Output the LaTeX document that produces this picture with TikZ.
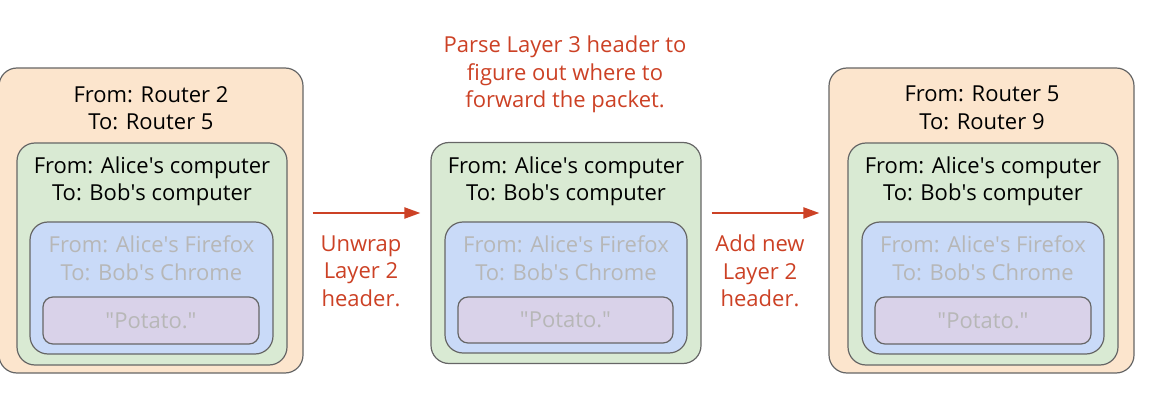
\documentclass[tikz,border=0pt]{standalone}
\usepackage{fontspec}
\setmainfont{Open Sans}
\usetikzlibrary{arrows.meta,positioning}
\definecolor{wrapfill}{HTML}{FCE5CD}
\definecolor{ipfill}{HTML}{D9EAD3}
\definecolor{tcpfill}{HTML}{C9DAF8}
\definecolor{datafill}{HTML}{D9D2E9}
\definecolor{edgegray}{HTML}{666666}
\definecolor{fadegray}{HTML}{B7B7B7}
\definecolor{notered}{HTML}{CC4125}

\tikzset{
  layer/.style={draw=edgegray, line width=1.2pt, rounded corners=18pt, inner sep=0pt},
  hdr/.style={align=center, inner sep=0pt, font=\fontsize{22}{27.5}\selectfont},
  faded/.style={hdr, text=fadegray},
  note/.style={hdr, text=notered},
  flow/.style={draw=notered, line width=2.2pt, -{Triangle[length=16pt,width=11pt]}}
}

\begin{document}
\begin{tikzpicture}[x=1pt,y=-1pt]
    % page
    \useasboundingbox (0,0) rectangle (1150,403);
    \coordinate (arrowrow) at (0,213);

    % left packet: layer 2 wrapper
    \node[layer, fill=wrapfill, minimum width=304pt, minimum height=305pt] (l2a) at (151,220.5) {};
    \node[hdr] (l2atxt) at (151,108) {From: Router 2\\To: Router 5};
    \node[layer, fill=ipfill, minimum width=270pt, minimum height=222pt] (ipa) at (152,254) {};
    \node[hdr] (ipatxt) at (152,181.5) {From: Alice\textquotesingle s computer\\To: Bob\textquotesingle s computer};
    \node[layer, fill=tcpfill, minimum width=243pt, minimum height=132pt] (tcpa) at (151.5,288) {};
    \node[faded] (tcpatxt) at (151.5,258) {From: Alice\textquotesingle s Firefox\\To: Bob\textquotesingle s Chrome};
    \node[layer, fill=datafill, minimum width=216pt, minimum height=47pt, rounded corners=10pt] (data) at (151,320.5) {};
    \node[faded] (datatxt) at (data) {\textquotedbl Potato.\textquotedbl};

    % middle packet: layer 3 only
    \node[layer, fill=ipfill, minimum width=270pt, minimum height=221pt] (ipm) at (566,253) {};
    \node[hdr] (ipmtxt) at (566,181.5) {From: Alice\textquotesingle s computer\\To: Bob\textquotesingle s computer};
    \node[layer, fill=tcpfill, minimum width=242pt, minimum height=131pt] (tcpm) at (566,287.5) {};
    \node[faded] (tcpmtxt) at (566,258) {From: Alice\textquotesingle s Firefox\\To: Bob\textquotesingle s Chrome};
    \node[layer, fill=datafill, minimum width=215pt, minimum height=46pt, rounded corners=10pt] (datam) at (565.5,320) {};
    \node[faded] (datamtxt) at (datam) {\textquotedbl Potato.\textquotedbl};
    \node[note] (parse) at (565,74.5) {Parse Layer 3 header to\\figure out where to\\forward the packet.};

    % right packet: new layer 2 wrapper
    \node[layer, fill=wrapfill, minimum width=305pt, minimum height=305pt] (l2b) at (981.5,220.5) {};
    \node[hdr] (l2btxt) at (982,108) {From: Router 5\\To: Router 9};
    \node[layer, fill=ipfill, minimum width=270pt, minimum height=222pt] (ipb) at (983,254) {};
    \node[hdr] (ipbtxt) at (983,181.5) {From: Alice\textquotesingle s computer\\To: Bob\textquotesingle s computer};
    \node[layer, fill=tcpfill, minimum width=242pt, minimum height=132pt] (tcpb) at (983,288) {};
    \node[faded] (tcpbtxt) at (983,258) {From: Alice\textquotesingle s Firefox\\To: Bob\textquotesingle s Chrome};
    \node[layer, fill=datafill, minimum width=216pt, minimum height=47pt, rounded corners=10pt] (datab) at (983,320.5) {};
    \node[faded] (databtxt) at (datab) {\textquotedbl Potato.\textquotedbl};

    % steps between packets
    \draw[flow, shorten <=9pt, shorten >=10pt] (l2a.east |- arrowrow) -- (ipm.west |- arrowrow);
    \node[note] (unwrap) at (361,271) {Unwrap\\Layer 2\\header.};
    \draw[flow, shorten <=10pt, shorten >=9pt] (ipm.east |- arrowrow) -- (l2b.west |- arrowrow);
    \node[note] (addnew) at (760,271) {Add new\\Layer 2\\header.};
\end{tikzpicture}
\end{document}
